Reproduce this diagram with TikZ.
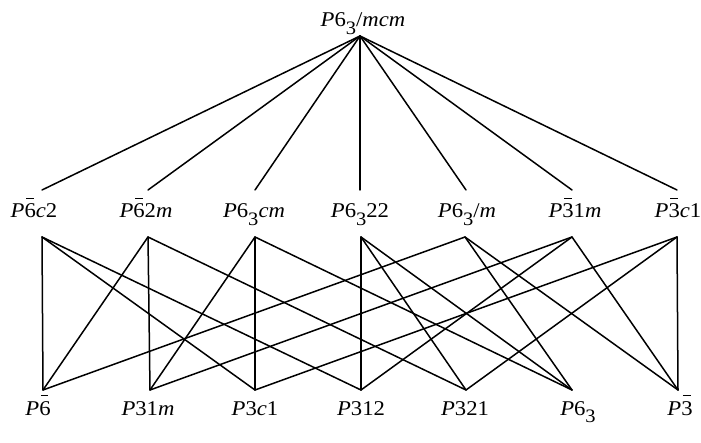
\documentclass[tikz,border=0pt]{standalone}
\usepackage{fontspec}
\setmainfont{Liberation Serif}[FakeStretch=1.08]
\newcommand{\ib}[1]{\leavevmode\makebox[0pt][l]{\hspace{0.08em}\raisebox{0.9em}{\rule{0.36em}{0.07em}}}#1}
\newcommand{\sbt}[1]{\raisebox{-0.36em}{\fontsize{19}{19}\selectfont #1}}
\begin{document}
\begin{tikzpicture}[x=1pt,y=-1pt,
  lbl/.style={anchor=base,inner sep=0pt,font=\fontsize{21}{21}\selectfont},
  edge/.style={line width=1.5pt,line cap=round,line join=round}]
\useasboundingbox (0,0) rectangle (701,443);
% labels
\node[lbl] (top) at (363,27) {\textit{P}6\sbt{3}/\textit{mcm}};
\node[lbl] (m1) at (34,218) {\textit{P}\ib{6}\textit{c}2};
\node[lbl] (m2) at (146,218) {\textit{P}\ib{6}2\textit{m}};
\node[lbl] (m3) at (254,218) {\textit{P}6\sbt{3}\textit{cm}};
\node[lbl] (m4) at (360,218) {\textit{P}6\sbt{3}22};
\node[lbl] (m5) at (467,218) {\textit{P}6\sbt{3}/\textit{m}};
\node[lbl] (m6) at (575,218) {\textit{P}\ib{3}1\textit{m}};
\node[lbl] (m7) at (678,218) {\textit{P}\ib{3}\textit{c}1};
\node[lbl] (b1) at (38,415) {\textit{P}\ib{6}};
\node[lbl] (b2) at (148,415) {\textit{P}31\textit{m}};
\node[lbl] (b3) at (255,415) {\textit{P}3\textit{c}1};
\node[lbl] (b4) at (361,415) {\textit{P}312};
\node[lbl] (b5) at (465,415) {\textit{P}321};
\node[lbl] (b6) at (578,415) {\textit{P}6\sbt{3}};
\node[lbl] (b7) at (680,415) {\textit{P}\ib{3}};
% connector end points
\coordinate (apex) at (360,36);
\coordinate (t1) at (42,190);  \coordinate (t2) at (148,190); \coordinate (t3) at (255,190);
\coordinate (t4) at (360,190); \coordinate (t5) at (466,190); \coordinate (t6) at (572,190);
\coordinate (t7) at (677,190);
\coordinate (u1) at (42,237);  \coordinate (u2) at (148,237); \coordinate (u3) at (255,237);
\coordinate (u4) at (361,237); \coordinate (u5) at (465,237); \coordinate (u6) at (572,237);
\coordinate (u7) at (677,237);
\coordinate (v1) at (43,390);  \coordinate (v2) at (150,390); \coordinate (v3) at (255,390);
\coordinate (v4) at (361,390); \coordinate (v5) at (466,390); \coordinate (v6) at (572,390);
\coordinate (v7) at (678,390);
% top connectors
\foreach \i in {1,...,7} \draw[edge] (apex) -- (t\i);
% lower connectors
\foreach \a/\b in {1/1,1/3,1/4, 2/1,2/2,2/5, 3/2,3/3,3/6, 4/4,4/5,4/6,
                   5/1,5/6,5/7, 6/2,6/4,6/7, 7/3,7/5,7/7}
  \draw[edge] (u\a) -- (v\b);
\end{tikzpicture}
\end{document}
